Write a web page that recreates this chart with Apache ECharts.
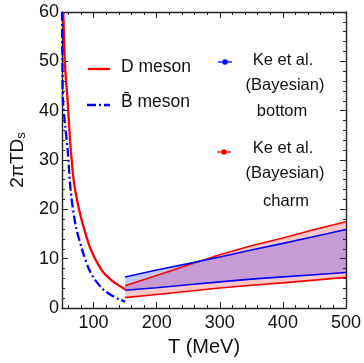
<!DOCTYPE html>
<html><head><meta charset="utf-8">
<script src="https://cdn.jsdelivr.net/npm/echarts@6/dist/echarts.min.js"></script>
<style>html,body{margin:0;padding:0;background:#fff}#c{width:364px;height:363px}</style>
</head><body><div id="c"></div>
<script>
// D meson curve
const dMesonT = [52, 54.5, 57, 59, 61.5, 64, 69, 77, 84, 94, 104, 115, 125, 135, 150];
const dMesonV = [60, 50, 45, 42, 36.5, 32, 25.4, 20, 16.5, 12.4, 9.6, 7.3, 6.0, 5.0, 3.8];
// B-bar meson curve
const bMesonT = [50, 50.7, 51.5, 55, 59, 64, 72, 82, 93, 103, 115, 127, 140, 150];
const bMesonV = [60, 50, 42, 37, 32, 23.4, 16.5, 11.8, 7.8, 5.6, 3.8, 2.7, 1.8, 1.3];
// Ke et al. (Bayesian) bands
const bandT = [150, 200, 250, 300, 350, 400, 450, 500];
const charmLower = [2.1, 2.75, 3.4, 4.05, 4.6, 5.1, 5.65, 6.2];
const charmUpper = [4.5, 6.6, 8.7, 10.8, 12.6, 14.2, 15.9, 17.5];
const bottomLower = [3.6, 4.1, 4.7, 5.3, 5.85, 6.3, 6.75, 7.2];
const bottomUpper = [6.3, 7.7, 9.0, 10.35, 11.75, 13.1, 14.5, 15.9];
// ticks
const xTickLabels = [100, 200, 300, 400, 500];
const xMinorTicks = [60, 80, 120, 140, 160, 180, 220, 240, 260, 280, 320, 340, 360, 380, 420, 440, 460, 480];
const yTickLabels = [0, 10, 20, 30, 40, 50, 60];

const FONT = '"Liberation Sans", Arial, sans-serif';
const AX = '#222';
const chart = echarts.init(document.getElementById('c'), null, {renderer: 'canvas'});

function pairs(ts, vs) { return ts.map((t, i) => [t, vs[i]]); }

const baseX = {type: 'value', min: 50, max: 500, splitLine: {show: false}, gridIndex: 0};
const xAxes = [
  Object.assign({}, baseX, {
    position: 'bottom',
    axisLine: {show: true, onZero: false, lineStyle: {color: AX, width: 1.4}},
    axisTick: {show: true, inside: true, length: 6, customValues: xTickLabels, lineStyle: {color: AX, width: 1}},
    axisLabel: {show: true, customValues: xTickLabels, margin: 6, fontSize: 18, color: '#111', fontFamily: FONT},
    name: 'T (MeV)', nameLocation: 'middle', nameGap: 29,
    nameTextStyle: {fontSize: 20, color: '#111', fontFamily: FONT}
  }),
  Object.assign({}, baseX, {
    position: 'bottom',
    axisLine: {show: false, onZero: false},
    axisTick: {show: true, inside: true, length: 3, customValues: xMinorTicks, lineStyle: {color: AX, width: 1}},
    axisLabel: {show: false}
  }),
  Object.assign({}, baseX, {
    position: 'top',
    axisLine: {show: true, onZero: false, lineStyle: {color: AX, width: 1.4}},
    axisTick: {show: true, inside: true, length: 6, customValues: xTickLabels, lineStyle: {color: AX, width: 1}},
    axisLabel: {show: false}
  }),
  Object.assign({}, baseX, {
    position: 'top',
    axisLine: {show: false, onZero: false},
    axisTick: {show: true, inside: true, length: 3, customValues: xMinorTicks, lineStyle: {color: AX, width: 1}},
    axisLabel: {show: false}
  })
];

const baseY = {type: 'value', min: 0, max: 60, interval: 10, splitLine: {show: false},
  minorTick: {show: true, splitNumber: 5, length: 3, lineStyle: {color: AX, width: 1}},
  minorSplitLine: {show: false}};
const yAxes = [
  Object.assign({}, baseY, {
    position: 'left',
    axisLine: {show: true, onZero: false, lineStyle: {color: AX, width: 1.4}},
    axisTick: {show: true, inside: true, length: 6, lineStyle: {color: AX, width: 1}},
    axisLabel: {show: true, margin: 3, fontSize: 18, color: '#111', fontFamily: FONT},
    name: '2πTD{s|s}', nameLocation: 'middle', nameGap: 34, nameRotate: 90,
    nameTextStyle: {fontSize: 19, color: '#111', fontFamily: FONT,
      rich: {s: {fontSize: 13, color: '#111', fontFamily: FONT, verticalAlign: 'bottom', padding: [8, 0, 0, 0]}}}
  }),
  Object.assign({}, baseY, {
    position: 'right',
    axisLine: {show: true, onZero: false, lineStyle: {color: AX, width: 1.4}},
    axisTick: {show: true, inside: true, length: 6, lineStyle: {color: AX, width: 1}},
    axisLabel: {show: false}
  })
];

const RED = '#ff0000', BLUE = '#0000ff';

function bandSeries(lower, upper, fill) {
  return {
    type: 'custom', coordinateSystem: 'cartesian2d', xAxisIndex: 0, yAxisIndex: 0,
    data: bandT.map((t, i) => [t, lower[i], upper[i]]),
    encode: {x: 0, y: [1, 2]},
    clip: true, silent: true, z: 2,
    renderItem: function (params, api) {
      if (params.dataIndex !== 0) return null;
      const pts = [];
      for (let i = 0; i < bandT.length; i++) pts.push(api.coord([bandT[i], upper[i]]));
      for (let i = bandT.length - 1; i >= 0; i--) pts.push(api.coord([bandT[i], lower[i]]));
      return {type: 'polygon', shape: {points: pts}, style: {fill: fill, stroke: null}};
    }
  };
}
function lineS(ts, vs, color, width, extra) {
  return Object.assign({type: 'line', data: pairs(ts, vs), showSymbol: false, silent: true,
    lineStyle: {color: color, width: width}, z: 2, clip: true}, extra || {});
}

const series = [
  bandSeries(charmLower, charmUpper, 'rgba(255,0,0,0.22)'),
  lineS(bandT, charmLower, RED, 1.6),
  lineS(bandT, charmUpper, RED, 1.6),
  bandSeries(bottomLower, bottomUpper, 'rgba(0,0,255,0.22)'),
  lineS(bandT, bottomLower, BLUE, 1.6),
  lineS(bandT, bottomUpper, BLUE, 1.6),
  lineS(dMesonT, dMesonV, RED, 2.3, {smooth: 0.3, z: 4}),
  {type: 'line', data: pairs(bMesonT, bMesonV), showSymbol: false, silent: true, smooth: 0.3,
   lineStyle: {color: BLUE, width: 2.3, type: [9, 3, 2, 3]}, z: 4, clip: true}
];

function txt(x, y, s) {
  return {type: 'text', x: x, y: y, style: {text: s, fill: '#111', font: '16.5px ' + FONT,
    align: 'center', verticalAlign: 'middle'}, z: 10};
}
function marker(x, y, color) {
  return [
    {type: 'line', shape: {x1: x - 7, y1: y, x2: x + 7, y2: y}, style: {stroke: color, lineWidth: 1.3}, z: 10},
    {type: 'circle', shape: {cx: x, cy: y, r: 2.8}, style: {fill: color}, z: 10}
  ];
}

const graphic = [
  {type: 'line', shape: {x1: 88, y1: 69, x2: 110, y2: 69}, style: {stroke: RED, lineWidth: 2.3}, z: 10},
  {type: 'text', x: 121, y: 67, style: {text: 'D meson', fill: '#111', font: '17.5px ' + FONT, align: 'left', verticalAlign: 'middle'}, z: 10},
  {type: 'line', shape: {x1: 87, y1: 105, x2: 110, y2: 105}, style: {stroke: BLUE, lineWidth: 2.3, lineDash: [9, 3, 2, 3]}, z: 10},
  {type: 'text', x: 121, y: 102, style: {text: 'B\u0304 meson', fill: '#111', font: '17.5px ' + FONT, align: 'left', verticalAlign: 'middle'}, z: 10},
  ...marker(225, 62, BLUE),
  txt(283, 60, 'Ke et al.'),
  txt(285, 85, '(Bayesian)'),
  txt(282, 111, 'bottom'),
  ...marker(224, 152, RED),
  txt(283, 148, 'Ke et al.'),
  txt(285, 173, '(Bayesian)'),
  txt(286, 201, 'charm')
];

chart.setOption({
  animation: false,
  backgroundColor: '#fff',
  grid: {left: 52, right: 15, top: 12, bottom: 55, containLabel: false},
  xAxis: xAxes,
  yAxis: yAxes,
  series: series,
  graphic: graphic
});
</script>
</body></html>
